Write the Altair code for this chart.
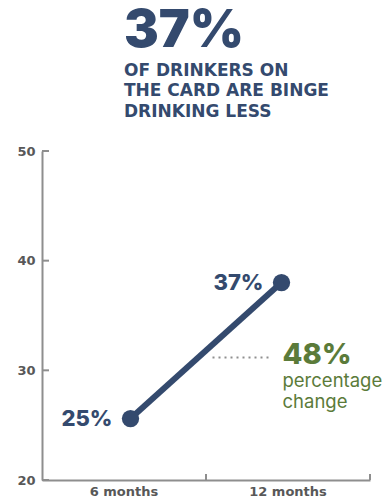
import altair as alt
import pandas as pd

# ---- data ----
periods = ["6 months", "12 months"]
values = [25.6, 38.0]
point_labels = ["25%", "37%"]
y_ticks = [20, 30, 40, 50]
change_value = "48%"
change_caption = "percentage\nchange"
headline = "37%"
subhead = ["OF DRINKERS ON", "THE CARD ARE BINGE", "DRINKING LESS"]

NAVY = "#344a6e"
GREEN = "#5b7b3a"
AXIS_GRAY = "#8e8e8e"
LABEL_GRAY = "#585858"
FONT = "Inter"
WIDE = "DejaVu Sans"

W, H = 328, 329

df = pd.DataFrame({"period": periods, "value": values, "label": point_labels})
ticks_df = pd.DataFrame({"tick": y_ticks})
mid = sum(values) / len(values)
ann_df = pd.DataFrame({"period": [periods[-1]], "value": [mid],
                       "big": [change_value], "small": [change_caption]})

# axis scale: bands fill the whole width
axis_scale = alt.Scale(type="band", domain=periods, paddingInner=0, paddingOuter=0)
# mark scale: same categories, points sit slightly inside the bands
mark_scale = alt.Scale(type="band", domain=periods, paddingInner=0, paddingOuter=0.086)
yscale = alt.Scale(domain=[20, 50], nice=False, zero=False)

y_axis = alt.Axis(title=None, values=y_ticks, ticks=False, grid=False,
                  domainColor=AXIS_GRAY, domainWidth=2, labelFont=WIDE,
                  labelFontWeight="bold", labelFontSize=13,
                  labelColor=LABEL_GRAY, labelPadding=7)
x_axis = alt.Axis(title=None, labelAngle=0, ticks=False, domainColor=AXIS_GRAY,
                  domainWidth=2, labelFont=WIDE, labelFontWeight="bold",
                  labelFontSize=13, labelColor=LABEL_GRAY, labelPadding=5,
                  labelBaseline="top")

base = alt.Chart(df)

# axis carrier + inward x-axis ticks at band edges
xticks = base.mark_rule(color=AXIS_GRAY, strokeWidth=2).encode(
    x=alt.X("period:N", scale=axis_scale, sort=periods, bandPosition=1, axis=x_axis),
    y=alt.value(H - 6),
    y2=alt.value(H),
)
# inward y-axis ticks
yticks = alt.Chart(ticks_df).mark_rule(color=AXIS_GRAY, strokeWidth=2).encode(
    y=alt.Y("tick:Q", scale=yscale, axis=y_axis),
    x=alt.value(0),
    x2=alt.value(7),
)
axis_layer = alt.layer(xticks, yticks)

mx = alt.X("period:N", scale=mark_scale, sort=periods, axis=None)
my = alt.Y("value:Q", scale=yscale)

line = base.mark_line(color=NAVY, strokeWidth=6).encode(x=mx, y=my)
points = base.mark_circle(color=NAVY, opacity=1, size=300).encode(x=mx, y=my)
labels = base.mark_text(align="right", baseline="middle", dx=-18, font=FONT,
                        fontWeight=800, fontSize=22, color=NAVY).encode(
    x=mx, y=my, text="label:N")

ann = alt.Chart(ann_df)
dots = ann.mark_rule(color="#8f8f8f", strokeWidth=2, strokeDash=[2, 4],
                     xOffset=-69, x2Offset=-13, yOffset=7, y2Offset=7).encode(
    x=mx, x2=alt.X2("period:N"), y=my)
big = ann.mark_text(align="left", baseline="middle", dx=1, dy=4, font=FONT,
                    fontWeight=800, fontSize=29, color=GREEN).encode(
    x=mx, y=my, text="big:N")
small = ann.mark_text(align="left", baseline="alphabetic", dx=1, dy=36,
                      font=FONT, fontWeight="normal", fontSize=18.5,
                      lineBreak="\n", lineHeight=21, color=GREEN).encode(
    x=mx, y=my, text="small:N")

mark_layer = alt.layer(line, dots, points, labels, big, small)

chart = alt.layer(axis_layer, mark_layer).resolve_scale(x="independent").properties(
    width=W, height=H,
    title=alt.TitleParams(
        text=headline, subtitle=subhead, anchor="start", frame="group", dx=82,
        offset=24.5, font=FONT, fontSize=52, fontWeight=900, color=NAVY,
        subtitleFont=WIDE, subtitleFontSize=17, subtitleFontWeight="bold",
        subtitleColor=NAVY, subtitleLineHeight=20.5, subtitlePadding=4.5,
    ),
    autosize=alt.AutoSizeParams(type="none"),
    padding={"left": 42, "top": 151, "right": 19, "bottom": 20},
).configure_view(stroke=None)

chart.save("out.html", embed_options={"renderer": "svg", "actions": False})
